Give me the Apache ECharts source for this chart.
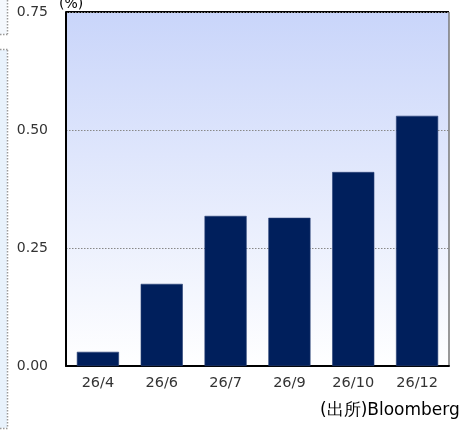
<!DOCTYPE html>
<html><head><meta charset="utf-8">
<script src="https://cdn.jsdelivr.net/npm/echarts@6/dist/echarts.min.js"></script>
<style>html,body{margin:0;padding:0;background:#fff;}#c{width:461px;height:432px;}</style>
</head><body><div id="c"></div>
<script>
const categories = ['26/4','26/6','26/7','26/9','26/10','26/12'];
const values = [0.03, 0.174, 0.318, 0.314, 0.411, 0.530];
const yTicks = [0, 0.25, 0.5, 0.75];

const chart = echarts.init(document.getElementById('c'), null, {renderer:'canvas'});
const font = 'DejaVu Sans';
chart.setOption({
  animation:false,
  textStyle:{fontFamily:font},
  grid:{left:66, right:12, top:12, bottom:66, show:true, borderColor:'#000', borderWidth:0,
    backgroundColor:new echarts.graphic.LinearGradient(0,0,0,1,[{offset:0,color:'#c9d5fa'},{offset:1,color:'#ffffff'}])},
  xAxis:{type:'category', data:categories,
    axisLine:{show:true, lineStyle:{color:'#000', width:2}},
    axisTick:{show:false},
    axisLabel:{color:'#333', fontSize:14.5, margin:10, fontFamily:font}},
  yAxis:{type:'value', min:0, max:0.75, interval:0.25,
    axisLine:{show:true, lineStyle:{color:'#000', width:2}},
    axisTick:{show:false},
    axisLabel:{color:'#333', fontSize:14, margin:18, fontFamily:font, formatter:v=>v.toFixed(2)},
    splitLine:{show:true, lineStyle:{color:'#888', type:[1.5,1.5], width:1}}},
  series:[{type:'bar', data:values, barWidth:'66%',
    itemStyle:{color:'#001f5c', borderColor:'#2a4275', borderWidth:0.6}}],
  graphic:[
    {type:'line', shape:{x1:66,y1:12,x2:449,y2:12}, style:{stroke:'#000', lineWidth:2}},
    {type:'line', shape:{x1:449,y1:12,x2:449,y2:366}, style:{stroke:'#777', lineWidth:1.5}},
    {type:'text', left:59, top:-3, style:{text:'(%)', fontSize:14, fill:'#000', fontFamily:font}},
    {type:'text', left:320, top:402, style:{text:'(出所)Bloomberg', fontSize:17, fill:'#000', fontFamily:font}},
    {type:'rect', shape:{x:0,y:0,width:7,height:34}, style:{fill:'#f4f8fd'}},
    {type:'rect', shape:{x:0,y:50,width:7,height:378}, style:{fill:'#e8f2fc'}},
    {type:'line', shape:{x1:7.5,y1:0,x2:7.5,y2:34}, style:{stroke:'#999', lineWidth:1.5, lineDash:[1.5,1.5]}},
    {type:'line', shape:{x1:0,y1:34.5,x2:7.5,y2:34.5}, style:{stroke:'#999', lineWidth:1.5, lineDash:[1.5,1.5]}},
    {type:'line', shape:{x1:7.5,y1:50,x2:7.5,y2:428}, style:{stroke:'#999', lineWidth:1.5, lineDash:[1.5,1.5]}},
    {type:'line', shape:{x1:0,y1:49.5,x2:7.5,y2:49.5}, style:{stroke:'#999', lineWidth:1.5, lineDash:[1.5,1.5]}},
    {type:'line', shape:{x1:0,y1:428.5,x2:7.5,y2:428.5}, style:{stroke:'#999', lineWidth:1.5, lineDash:[1.5,1.5]}}
  ]
});
</script></body></html>
